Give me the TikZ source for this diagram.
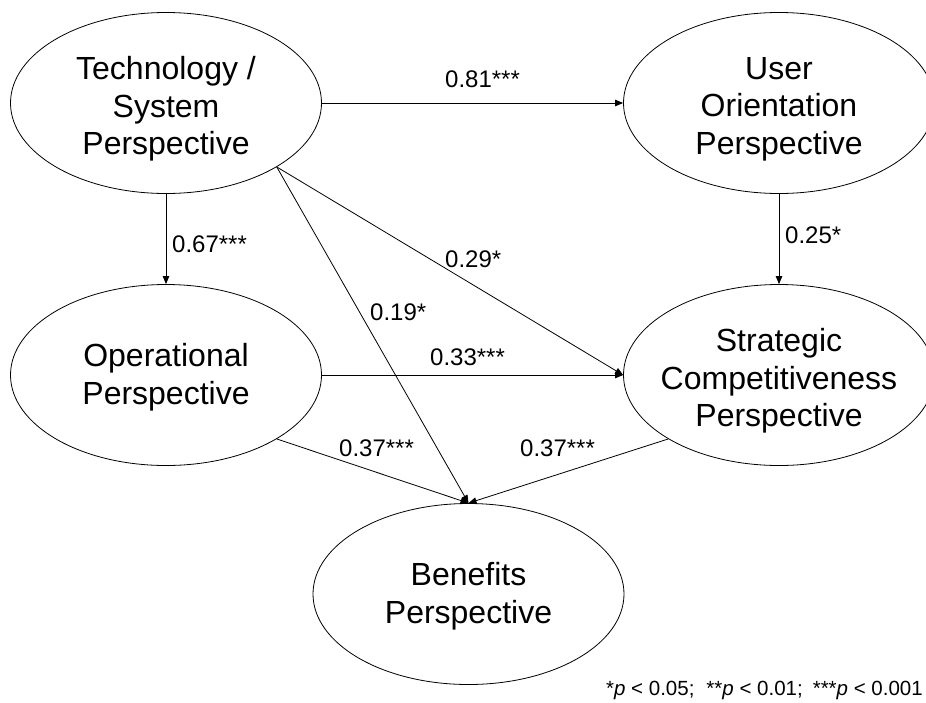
\documentclass[tikz,border=0pt]{standalone}
\usepackage{fontspec}
\setmainfont{Liberation Sans}
\usetikzlibrary{shapes.geometric,arrows.meta}
\begin{document}
\begin{tikzpicture}[x=1pt,y=-1pt,
  pers/.style={draw, ellipse, minimum width=311pt, minimum height=181pt, inner sep=0pt, line width=0.8pt},
  ptext/.style={align=center, font=\fontsize{32}{37.5}\selectfont, inner sep=0pt},
  coef/.style={anchor=base west, inner sep=0pt, font=\fontsize{24}{28}\selectfont},
  note/.style={anchor=base east, inner sep=0pt, font=\fontsize{20.5}{24}\selectfont},
  arr/.style={-{Triangle[length=8pt,width=6.5pt]}, line width=0.8pt}]
\useasboundingbox (0,0) rectangle (926,702);
% ellipses
\node[pers] (T) at (166,103) {};
\node[pers] (U) at (779,103) {};
\node[pers] (O) at (166,375) {};
\node[pers] (S) at (779,375) {};
\node[pers] (B) at (468.5,594) {};
% texts
\node[ptext] (Tt) at (166,109) {Technology /\\System\\Perspective};
\node[ptext] (Ut) at (779,109) {User\\Orientation\\Perspective};
\node[ptext] (Ot) at (166,377) {Operational\\Perspective};
\node[ptext] (St) at (779,381) {Strategic\\Competitiveness\\Perspective};
\node[ptext] (Bt) at (468.5,596) {Benefits\\Perspective};
% connectors
\draw[arr] (T.east) -- (U.west);
\draw[arr] (T.south) -- (O.north);
\draw[arr] (U.south) -- (S.north);
\draw[arr] (O.east) -- (S.west);
\draw[arr] (T.-30) -- (S.west);
\draw[arr] (T.-30) -- (B.north);
\draw[arr] (O.-30) -- (B.north);
\draw[arr] (S.210) -- (B.north);
% coefficients
\node[coef] (c1) at (445,87) {0.81***};
\node[coef] (c2) at (172,252) {0.67***};
\node[coef] (c3) at (785,243) {0.25*};
\node[coef] (c4) at (445,267) {0.29*};
\node[coef] (c5) at (370,320) {0.19*};
\node[coef] (c6) at (430,365) {0.33***};
\node[coef] (c7) at (339,456) {0.37***};
\node[coef] (c8) at (520,456) {0.37***};
% footnote
\node[note] (fn) at (923,695) {*\textit{p} < 0.05;\hspace{12pt}**\textit{p} < 0.01;\hspace{10pt}***\textit{p} < 0.001};
\end{tikzpicture}
\end{document}
